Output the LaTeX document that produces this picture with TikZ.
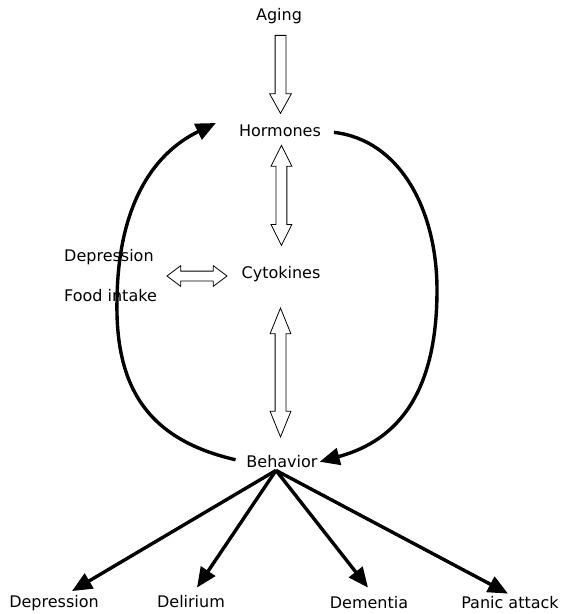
\documentclass[tikz,border=0pt]{standalone}
\usepackage{fontspec}
\setmainfont{DejaVu Sans}
\usetikzlibrary{arrows.meta,shapes.arrows,calc}
\newcommand{\clrline}{black}

\begin{document}
\begin{tikzpicture}[x=1pt,y=-1pt,
    lbl/.style={font=\fontsize{16}{19}\selectfont, inner sep=1pt},
    bigarrow/.style={\clrline, line width=3.4pt, -{Triangle[length=20pt,width=17pt]}},
    hollow/.style={draw, single arrow, single arrow head extend=5.5pt,
        single arrow tip angle=58, inner sep=5pt, line width=0.8pt},
    hollowtwo/.style={draw, double arrow, double arrow head extend=5pt,
        inner sep=5pt, line width=0.8pt}]
    \useasboundingbox (0,0) rectangle (561,614);

    \node[lbl] (aging) at (279,16) {Aging};
    \node[lbl] (horm) at (280,131) {Hormones};
    \node[lbl] (cyto) at (281,274) {Cytokines};
    \node[lbl] (beh) at (282,462) {Behavior};
    \node[lbl, anchor=west] (depr) at (63,257) {Depression};
    \node[lbl, anchor=west] (food) at (63,296) {Food intake};

    \node[lbl] (d1) at (54,603) {Depression};
    \node[lbl] (d2) at (191,602) {Delirium};
    \node[lbl] (d3) at (369,603) {Dementia};
    \node[lbl] (d4) at (510,603) {Panic attack};

    % hollow arrows
    \node[hollow, minimum height=78pt, rotate=-90] (a1) at ($(aging)!0.5!(horm)+(1,-4)$) {};
    \node[hollowtwo, minimum height=100pt, double arrow tip angle=53, rotate=90] (a2) at ($(horm)!0.45!(cyto)+(1,0)$) {};
    \node[hollowtwo, minimum height=60pt, inner sep=4.5pt, double arrow head extend=5.5pt,
        double arrow tip angle=74] (a3) at (197,276) {};
    \node[hollowtwo, minimum height=129pt, double arrow tip angle=44, rotate=90] (a4) at ($(cyto)!0.5!(beh)+(-1,4.5)$) {};

    % feedback loop
    \draw[bigarrow, shorten <=10pt] (beh.west) .. controls (150,440) and (115,390) .. (117,300)
        .. controls (118,210) and (150,155) .. ([xshift=-22pt,yshift=8pt]horm.west);
    \draw[bigarrow, shorten <=12pt, shorten >=1pt] (horm.east) .. controls (400,140) and (437,210) .. (437,290)
        .. controls (437,390) and (400,440) .. (beh.east);

    % outcomes
    \coordinate (fan) at ([xshift=-6pt,yshift=-1pt]beh.south);
    \draw[bigarrow] (fan) -- ([xshift=18pt,yshift=3pt]d1.north);
    \draw[bigarrow] (fan) -- ([xshift=6pt,yshift=7pt]d2.north);
    \draw[bigarrow] (fan) -- ([xshift=-1pt,yshift=8pt]d3.north);
    \draw[bigarrow] (fan) -- ([xshift=-2pt,yshift=2pt]d4.north);
\end{tikzpicture}
\end{document}
